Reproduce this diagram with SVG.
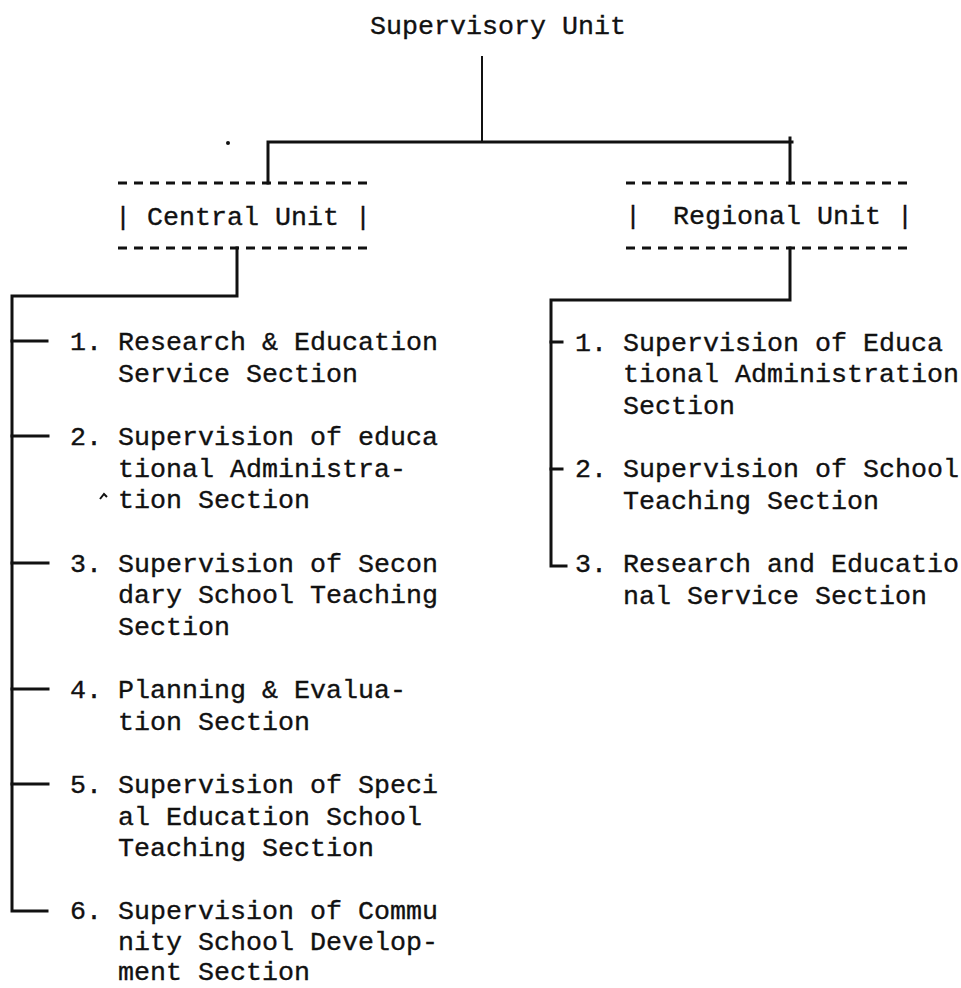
<svg xmlns="http://www.w3.org/2000/svg" width="961" height="988" viewBox="0 0 961 988">
  <style>
    text { font-family: "Liberation Mono", "Courier New", monospace; font-size: 26.67px; fill: #111; stroke: #111; stroke-width: 0.35px; }
    .wire { fill: none; stroke: #111; stroke-width: 3; stroke-linecap: square; stroke-linejoin: miter; }
    .thin { fill: none; stroke: #111; stroke-width: 2; }
    .dash { fill: none; stroke: #111; stroke-width: 3; stroke-dasharray: 9 7; }
  </style>
  <rect width="961" height="988" fill="#fff"/>

  <!-- top of the tree -->
  <g id="supervisory-unit">
    <text x="370" y="34">Supervisory Unit</text>
  </g>

  <!-- the two units, drawn as typed boxes -->
  <g id="central-unit">
    <line class="dash" x1="118" y1="183" x2="374" y2="183"/>
    <text x="115" y="225" xml:space="preserve">| Central Unit |</text>
    <line class="dash" x1="118" y1="248" x2="374" y2="248"/>
  </g>
  <g id="regional-unit">
    <line class="dash" x1="626" y1="183" x2="914" y2="183"/>
    <text x="625" y="224" xml:space="preserve">|  Regional Unit |</text>
    <line class="dash" x1="626" y1="248" x2="914" y2="248"/>
  </g>

  <!-- central unit sections -->
  <g id="central-1">
    <text x="70" y="350">1. Research &amp; Education</text>
    <text x="118" y="382">Service Section</text>
  </g>
  <g id="central-2">
    <text x="70" y="445">2. Supervision of educa</text>
    <text x="118" y="477">tional Administra-</text>
    <text x="118" y="508">tion Section</text>
  </g>
  <g id="central-3">
    <text x="70" y="572">3. Supervision of Secon</text>
    <text x="118" y="603">dary School Teaching</text>
    <text x="118" y="635">Section</text>
  </g>
  <g id="central-4">
    <text x="70" y="698">4. Planning &amp; Evalua-</text>
    <text x="118" y="730">tion Section</text>
  </g>
  <g id="central-5">
    <text x="70" y="793">5. Supervision of Speci</text>
    <text x="118" y="825">al Education School</text>
    <text x="118" y="856">Teaching Section</text>
  </g>
  <g id="central-6">
    <text x="70" y="919">6. Supervision of Commu</text>
    <text x="118" y="950">nity School Develop-</text>
    <text x="118" y="980">ment Section</text>
  </g>

  <!-- regional unit sections -->
  <g id="regional-1">
    <text x="575" y="351">1. Supervision of Educa</text>
    <text x="623" y="382">tional Administration</text>
    <text x="623" y="414">Section</text>
  </g>
  <g id="regional-2">
    <text x="575" y="477">2. Supervision of School</text>
    <text x="623" y="509">Teaching Section</text>
  </g>
  <g id="regional-3">
    <text x="575" y="572">3. Research and Educatio</text>
    <text x="623" y="604">nal Service Section</text>
  </g>

  <!-- connectors -->
  <g id="connectors">
    <line class="thin" x1="482" y1="56" x2="482" y2="142"/>
    <path class="wire" d="M268,183 V142 H792"/>
    <path class="wire" d="M790,138 V183"/>

    <path class="wire" d="M237,248 V296 H12 V911 H47"/>
    <path class="wire" d="M12,341 H47 M12,436 H48 M12,563 H48 M12,689 H48 M12,784 H48"/>

    <path class="wire" d="M790,248 V300 H551 V566 H566"/>
    <path class="wire" d="M551,342 H562 M551,469 H562"/>
  </g>

  <!-- small specks on the sheet -->
  <circle cx="228" cy="143" r="2" fill="#111"/>
  <path d="M100,499 L104,494 L107,497" fill="none" stroke="#111" stroke-width="2"/>
</svg>
